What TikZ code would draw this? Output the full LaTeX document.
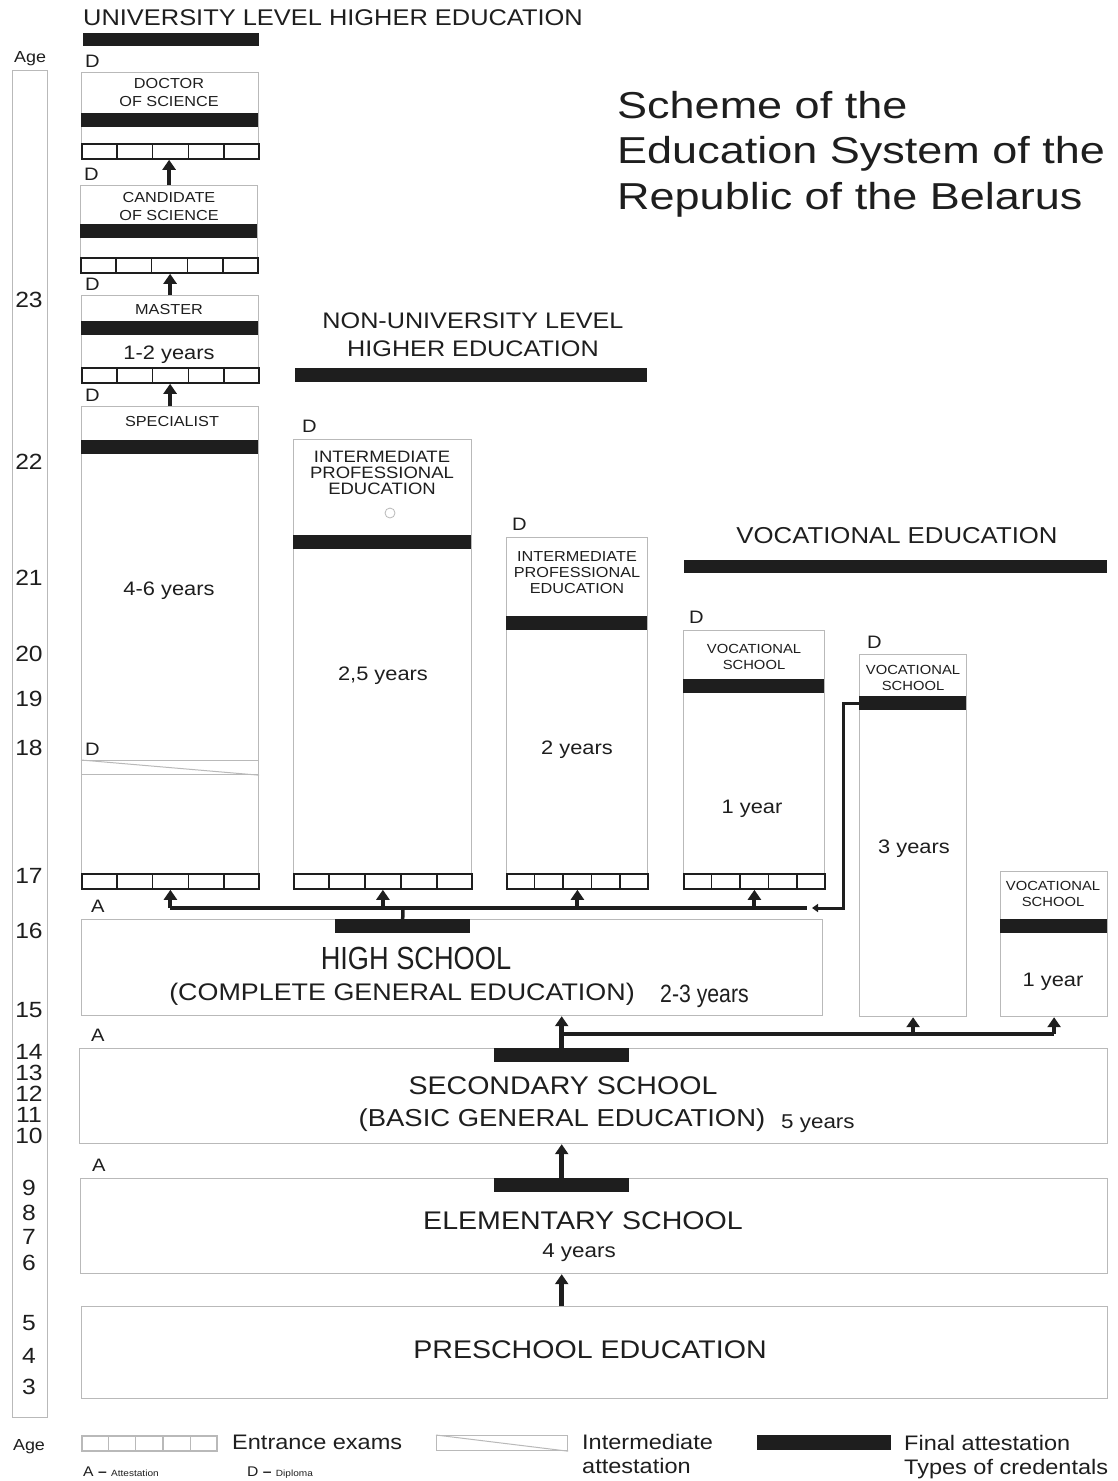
\documentclass[tikz,border=0pt]{standalone}
\usepackage{fontspec}
\setmainfont{Liberation Sans}[FakeStretch=1.12]
\newfontfamily\titlefont{Liberation Sans}[FakeStretch=1.2]
\newfontfamily\condfont{Liberation Sans}[FakeStretch=0.85]
\usepackage{xcolor}
\usepackage{tikz}
\usetikzlibrary{positioning, calc, arrows.meta}

\definecolor{boxgray}{RGB}{185,185,185}
\definecolor{ink}{RGB}{30,30,30}
\newcommand{\fsz}[2]{\fontsize{#1}{#2}\selectfont}
% strip of five entrance exam cells: [colour]{name}{x}{y}{width}
\newcommand{\examstrip}[5][ink]{%
  \node[strip, draw=#1, minimum width=#5] (#2) at (#3,#4) {};
  \foreach \k in {1,...,4}
    \draw[line width=1.5pt, #1] ($(#2.north west)!\k/5!(#2.north east)$) -- ($(#2.south west)!\k/5!(#2.south east)$);%
}

\begin{document}
\begin{tikzpicture}[x=1pt, y=-1pt,
box/.style={rectangle, draw=boxgray, line width=1.2pt, fill=white, inner sep=0pt, anchor=north west},
bar/.style={rectangle, fill=ink, inner sep=0pt, anchor=north west, minimum height=14},
strip/.style={rectangle, line width=1.8pt, fill=white, inner sep=0pt, anchor=north west, minimum height=15},
inter/.style={rectangle, draw=boxgray, line width=1.2pt, fill=white, inner sep=0pt, anchor=north west, minimum height=14},
lbl/.style={inner sep=0pt, text=ink, text depth=0pt, align=center},
head/.style={lbl, font=\fsz{22.5}{28}},
small/.style={lbl, font=\fsz{14.5}{18}},
yrs/.style={lbl, font=\fsz{19.5}{22}},
big/.style={lbl, font=\fsz{25.5}{30}},
dlbl/.style={lbl, font=\fsz{18}{20}},
agenum/.style={lbl, font=\fsz{22}{24}},
legend/.style={lbl, align=left, anchor=west, font=\fsz{21}{24}},
up/.style={-{Triangle[width=13pt,length=10pt]}, line width=4pt, draw=ink},
trunk/.style={line width=3.5pt, draw=ink},
side/.style={-{Triangle[width=8pt,length=6pt]}, line width=3pt, draw=ink}
]
\useasboundingbox (0,0) rectangle (1117,1481);

% age scale
\node[box, minimum width=35, minimum height=1347] (age_box) at (12,70) {};
\node[lbl, font=\fsz{16}{18}, above=7pt of age_box] (age_top) {Age};
\foreach \a/\yy in {23/300, 22/462, 21/578, 20/654, 19/699, 18/748, 17/876, 16/931, 15/1010,
  14/1052, 13/1073, 12/1094, 11/1115, 10/1136, 9/1188, 8/1213, 7/1237, 6/1263, 5/1323, 4/1356, 3/1387}
  \node[agenum] (age\a) at (29,\yy) {\a};

% headings
\node[lbl, anchor=west, font=\fsz{22.7}{28}] (uni_head) at (83,18) {UNIVERSITY LEVEL HIGHER EDUCATION};
\node[bar, minimum width=176, minimum height=13] (uni_bar) at (83,33) {};
\node[lbl, anchor=north west, align=left, font=\titlefont\fsz{37.5}{45.5}] (title) at (617,91)
  {Scheme of the\\Education System of the\\Republic of the Belarus};
\node[head] (nonuni_head) at (473,335) {NON-UNIVERSITY LEVEL\\HIGHER EDUCATION};
\node[bar, minimum width=352] (nonuni_bar) at (295,368) {};
\node[lbl, font=\fsz{23}{28}] (voc_head) at (897,535) {VOCATIONAL EDUCATION};
\node[bar, minimum width=423, minimum height=13] (voc_bar) at (684,560) {};

% doctor of science
\node[box, minimum width=177, minimum height=86] (doc_box) at (81,72) {};
\node[bar, minimum width=177] (doc_bar) at (81,113) {};
\examstrip{doc_exam}{81}{143}{177}
\node[small] (doc_txt) at (169,92) {DOCTOR\\OF SCIENCE};
\node[dlbl, above right=4pt and 4pt of doc_box.north west] (doc_d) {D};

% candidate of science
\node[box, minimum width=177, minimum height=87] (cand_box) at (80,185) {};
\node[bar, minimum width=177] (cand_bar) at (80,224) {};
\examstrip{cand_exam}{80}{257}{177}
\node[small] (cand_txt) at (169,206) {CANDIDATE\\OF SCIENCE};
\node[dlbl, above right=4pt and 4pt of cand_box.north west] (cand_d) {D};

% master
\node[box, minimum width=177, minimum height=87] (mast_box) at (81,295) {};
\node[bar, minimum width=177] (mast_bar) at (81,321) {};
\examstrip{mast_exam}{81}{367}{177}
\node[small] (mast_txt) at (169,309) {MASTER};
\node[yrs] (mast_yrs) at (169,353) {1-2 years};
\node[dlbl, above right=4pt and 4pt of mast_box.north west] (mast_d) {D};

% specialist
\node[box, minimum width=177, minimum height=482] (spec_box) at (81,406) {};
\node[bar, minimum width=177] (spec_bar) at (81,440) {};
\node[inter, minimum width=177] (spec_inter) at (81,760) {};
\draw[boxgray, line width=1pt] (spec_inter.north west) -- (spec_inter.south east);
\examstrip{spec_exam}{81}{873}{177}
\node[small] (spec_txt) at (172,421) {SPECIALIST};
\node[yrs] (spec_yrs) at (169,589) {4-6 years};
\node[dlbl, above right=4pt and 4pt of spec_box.north west] (spec_d) {D};
\node[dlbl, above right=4pt and 4pt of spec_inter.north west] (spec_d2) {D};

% intermediate professional education, 2,5 years
\node[box, minimum width=178, minimum height=449] (ipe1_box) at (293,439) {};
\node[bar, minimum width=178] (ipe1_bar) at (293,535) {};
\examstrip{ipe1_exam}{293}{873}{178}
\node[lbl, font=\fsz{16.5}{16}] (ipe1_txt) at (382,473) {INTERMEDIATE\\PROFESSIONAL\\EDUCATION};
\node[circle, draw=boxgray, line width=0.8pt, minimum size=10, inner sep=0pt] (ipe1_mark) at (390,513) {};
\node[yrs] (ipe1_yrs) at (383,674) {2,5 years};
\node[dlbl, above right=6pt and 9pt of ipe1_box.north west] (ipe1_d) {D};

% intermediate professional education, 2 years
\node[box, minimum width=141, minimum height=351] (ipe2_box) at (506,537) {};
\node[bar, minimum width=141] (ipe2_bar) at (506,616) {};
\examstrip{ipe2_exam}{506}{873}{141}
\node[lbl, font=\fsz{14.5}{16}] (ipe2_txt) at (577,573) {INTERMEDIATE\\PROFESSIONAL\\EDUCATION};
\node[yrs] (ipe2_yrs) at (577,748) {2 years};
\node[dlbl, above right=6pt and 6pt of ipe2_box.north west] (ipe2_d) {D};

% vocational schools
\node[box, minimum width=141, minimum height=258] (voc1_box) at (683,630) {};
\node[bar, minimum width=141] (voc1_bar) at (683,679) {};
\examstrip{voc1_exam}{683}{873}{141}
\node[lbl, font=\fsz{13.2}{16}] (voc1_txt) at (754,657) {VOCATIONAL\\SCHOOL};
\node[yrs] (voc1_yrs) at (752,807) {1 year};
\node[dlbl, above right=6pt and 6pt of voc1_box.north west] (voc1_d) {D};

\node[box, minimum width=107, minimum height=362] (voc2_box) at (859,654) {};
\node[bar, minimum width=107] (voc2_bar) at (859,696) {};
\node[lbl, font=\fsz{13.2}{16}] (voc2_txt) at (913,678) {VOCATIONAL\\SCHOOL};
\node[yrs] (voc2_yrs) at (914,847) {3 years};
\node[dlbl, above right=5pt and 8pt of voc2_box.north west] (voc2_d) {D};

\node[box, minimum width=107, minimum height=145] (voc3_box) at (1000,871) {};
\node[bar, minimum width=107] (voc3_bar) at (1000,919) {};
\node[lbl, font=\fsz{13.2}{16}] (voc3_txt) at (1053,894) {VOCATIONAL\\SCHOOL};
\node[yrs] (voc3_yrs) at (1053,980) {1 year};

% high school
\node[box, minimum width=741, minimum height=96] (hs_box) at (81,919) {};
\node[bar, minimum width=135] (hs_bar) at (335,919) {};
\node[lbl, font=\condfont\fsz{32}{34}] (hs_txt) at (416,958) {HIGH SCHOOL};
\node[lbl, font=\fsz{24}{28}] (hs_sub) at (402,992) {(COMPLETE GENERAL EDUCATION)};
\node[lbl, anchor=west, font=\condfont\fsz{25}{28}] (hs_yrs) at (660,994) {2-3 years};
\node[dlbl, above right=6pt and 10pt of hs_box.north west] (hs_a) {A};

% secondary school
\node[box, minimum width=1028, minimum height=95] (sec_box) at (79,1048) {};
\node[bar, minimum width=135] (sec_bar) at (494,1048) {};
\node[big] (sec_txt) at (563,1086) {SECONDARY SCHOOL};
\node[lbl, font=\fsz{24.5}{28}] (sec_sub) at (562,1118) {(BASIC GENERAL EDUCATION)};
\node[lbl, anchor=west, font=\fsz{20}{24}] (sec_yrs) at (781,1122) {5 years};
\node[dlbl, above right=6pt and 12pt of sec_box.north west] (sec_a) {A};

% elementary school
\node[box, minimum width=1027, minimum height=95] (el_box) at (80,1178) {};
\node[bar, minimum width=135] (el_bar) at (494,1178) {};
\node[big] (el_txt) at (583,1221) {ELEMENTARY SCHOOL};
\node[lbl, font=\fsz{20}{24}] (el_yrs) at (579,1251) {4 years};
\node[dlbl, above right=6pt and 12pt of el_box.north west] (el_a) {A};

% preschool
\node[box, minimum width=1026, minimum height=92] (pre_box) at (81,1306) {};
\node[big] (pre_txt) at (590,1350) {PRESCHOOL EDUCATION};

% arrows between university levels
\draw[up] (cand_box.north) -- (cand_box.north |- doc_exam.south);
\draw[up] (mast_box.north) -- (mast_box.north |- cand_exam.south);
\draw[up] (spec_box.north) -- (spec_box.north |- mast_exam.south);

% from high school to the higher levels
\coordinate (fork) at (403,908);
\coordinate (trunk_end) at (807,908);
\coordinate (side_tip) at (812,908);
\draw[trunk] (hs_bar.north) -- (fork);
\draw[trunk] (fork -| spec_exam.south) -- (trunk_end);
\foreach \ex in {spec_exam, ipe1_exam, ipe2_exam, voc1_exam}
  \draw[up] (fork -| \ex.south) -- (\ex.south);
\draw[side] (voc2_bar.west) -- ++(-16,0) |- (side_tip);

% from secondary school
\coordinate (branch) at (561.5,1034);
\draw[up, line width=5pt] (sec_bar.north) -- (sec_bar.north |- hs_box.south);
\draw[trunk] (branch) -- (branch -| voc3_box.south);
\draw[up] (branch -| voc2_box.south) -- (voc2_box.south);
\draw[up] (branch -| voc3_box.south) -- (voc3_box.south);

% lower levels
\draw[up, line width=5pt] (el_bar.north) -- (el_bar.north |- sec_box.south);
\draw[up, line width=5pt] (el_bar.north |- pre_box.north) -- (el_bar.north |- el_box.south);

% legend
\node[lbl, font=\fsz{16}{18}] (age_bottom) at (29,1445) {Age};
\examstrip[boxgray]{leg_exam}{81}{1435}{135}
\node[legend] (leg_exam_txt) at (232,1442) {Entrance exams};
\node[inter, minimum width=131, minimum height=15] (leg_inter) at (436,1435) {};
\draw[boxgray, line width=1pt] (leg_inter.north west) -- (leg_inter.south east);
\node[legend] (leg_inter_txt) at (582,1454) {Intermediate\\attestation};
\node[bar, minimum width=134, minimum height=15] (leg_bar) at (757,1435) {};
\node[legend] (leg_bar_txt) at (904,1455) {Final attestation\\Types of credentals};
\node[lbl, anchor=west] (leg_a) at (83,1472) {\fsz{14}{16}A \textbf{--} \fsz{9}{10}Attestation};
\node[lbl, anchor=west] (leg_d) at (247,1472) {\fsz{14}{16}D \textbf{--} \fsz{9}{10}Diploma};
\end{tikzpicture}
\end{document}
